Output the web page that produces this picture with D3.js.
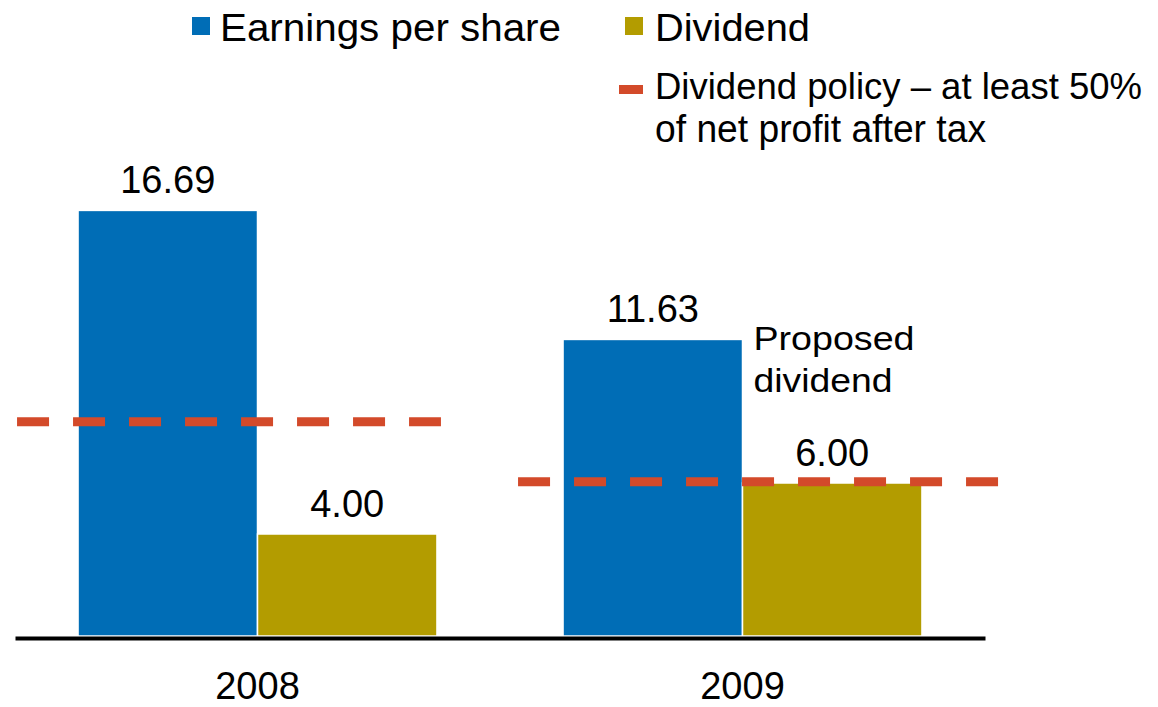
<!DOCTYPE html>
<html>
<head>
<meta charset="utf-8">
<script src="https://cdn.jsdelivr.net/npm/d3@7"></script>
<style>
  html, body { margin: 0; padding: 0; background: #ffffff; }
  svg { display: block; font-family: "Liberation Sans", Arial, Helvetica, sans-serif; }
</style>
</head>
<body>
<svg id="chart" width="1158" height="707"></svg>
<script>
// ---- Data ----
const years = ["2008", "2009"];
const seriesKeys = ["eps", "dividend"];
const seriesNames = ["Earnings per share", "Dividend"];
const epsValues = [16.69, 11.63];
const dividendValues = [4.00, 6.00];
const policyLevels = [8.40, 6.05];
const valueLabels = [["16.69", "4.00"], ["11.63", "6.00"]];
const policyLegendLines = ["Dividend policy \u2013 at least 50%", "of net profit after tax"];
const annotationLines = ["Proposed", "dividend"];

// ---- Styles / layout ----
const colors = { eps: "#006DB6", dividend: "#B39C00", policy: "#D34A2A" };
const baseY = 636;
const svg = d3.select("#chart");

const x0 = d3.scaleBand().domain(years).range([15, 985]).paddingInner(0.26).paddingOuter(0.13);
const x1 = d3.scaleBand().domain(seriesKeys).range([0, x0.bandwidth()]).padding(0);
const y = d3.scaleLinear().domain([0, 24]).range([baseY, baseY - 24 * 25.5]);

const rows = years.map((yr, i) => ({
  year: yr,
  values: [
    { key: "eps", value: epsValues[i], label: valueLabels[i][0] },
    { key: "dividend", value: dividendValues[i], label: valueLabels[i][1] }
  ],
  policy: policyLevels[i]
}));

// Bars
const groups = svg.append("g").selectAll("g.grp").data(rows).join("g")
  .attr("class", "grp")
  .attr("transform", d => `translate(${x0(d.year)},0)`);

groups.selectAll("rect").data(d => d.values).join("rect")
  .attr("x", d => x1(d.key))
  .attr("y", d => y(d.value))
  .attr("width", x1.bandwidth())
  .attr("height", d => y(0) - y(d.value))
  .attr("fill", d => colors[d.key])
  .attr("stroke", "#ffffff")
  .attr("stroke-width", 1.5);

groups.selectAll("text.val").data(d => d.values).join("text")
  .attr("class", "val")
  .attr("x", d => x1(d.key) + x1.bandwidth() / 2)
  .attr("y", d => y(d.value) - 17)
  .attr("text-anchor", "middle")
  .attr("font-size", 38)
  .attr("fill", "#000")
  .text(d => d.label);

// Policy dashed lines (extent offsets relative to group band)
const policyExtent = [[-61, 4], [-45, 77]];
svg.append("g").selectAll("line").data(rows).join("line")
  .attr("x1", (d, i) => x0(d.year) + policyExtent[i][0])
  .attr("x2", (d, i) => x0(d.year) + x0.bandwidth() + policyExtent[i][1])
  .attr("y1", d => y(d.policy))
  .attr("y2", d => y(d.policy))
  .attr("stroke", colors.policy)
  .attr("stroke-width", 9)
  .attr("stroke-dasharray", "32,24");

// Annotation "Proposed dividend"
const annX = x0("2009") + x1("eps") + x1.bandwidth() + 11;
const annLens = [161, 139];
const ann = svg.append("text")
  .attr("x", annX)
  .attr("y", y(epsValues[1]) + 11)
  .attr("font-size", 34)
  .attr("fill", "#000");
ann.selectAll("tspan").data(annotationLines).join("tspan")
  .attr("x", annX)
  .attr("dy", (d, i) => i === 0 ? 0 : 42)
  .attr("textLength", (d, i) => annLens[i])
  .attr("lengthAdjust", "spacingAndGlyphs")
  .text(d => d);

// X axis
const axis = svg.append("g")
  .attr("transform", `translate(0,${baseY + 2})`)
  .call(d3.axisBottom(x0).tickSize(0).tickPadding(34));
axis.select(".domain").attr("stroke", "#000").attr("stroke-width", 4);
axis.selectAll(".tick text")
  .attr("font-size", 38)
  .attr("font-family", "Liberation Sans, Arial, sans-serif")
  .attr("fill", "#000");

// Legend
const legend = svg.append("g");
const legendItems = [
  { key: "eps", name: seriesNames[0], sx: 192, tx: 220, len: 341 },
  { key: "dividend", name: seriesNames[1], sx: 625, tx: 655, len: 155 }
];
legendItems.forEach(it => {
  legend.append("rect").attr("x", it.sx).attr("y", 17).attr("width", 18).attr("height", 18)
    .attr("fill", colors[it.key]);
  legend.append("text").attr("x", it.tx).attr("y", 41).attr("font-size", 38).attr("fill", "#000")
    .attr("textLength", it.len).attr("lengthAdjust", "spacingAndGlyphs")
    .text(it.name);
});
legend.append("line").attr("x1", 619).attr("x2", 643).attr("y1", 89.5).attr("y2", 89.5)
  .attr("stroke", colors.policy).attr("stroke-width", 9);
const plLens = [487, 331];
const plSizes = [37, 38];
const pl = legend.append("text").attr("x", 655).attr("y", 99).attr("fill", "#000");
pl.selectAll("tspan").data(policyLegendLines).join("tspan")
  .attr("x", 655)
  .attr("dy", (d, i) => i === 0 ? 0 : 43)
  .attr("font-size", (d, i) => plSizes[i])
  .attr("textLength", (d, i) => plLens[i])
  .attr("lengthAdjust", "spacingAndGlyphs")
  .text(d => d);
</script>
</body>
</html>
